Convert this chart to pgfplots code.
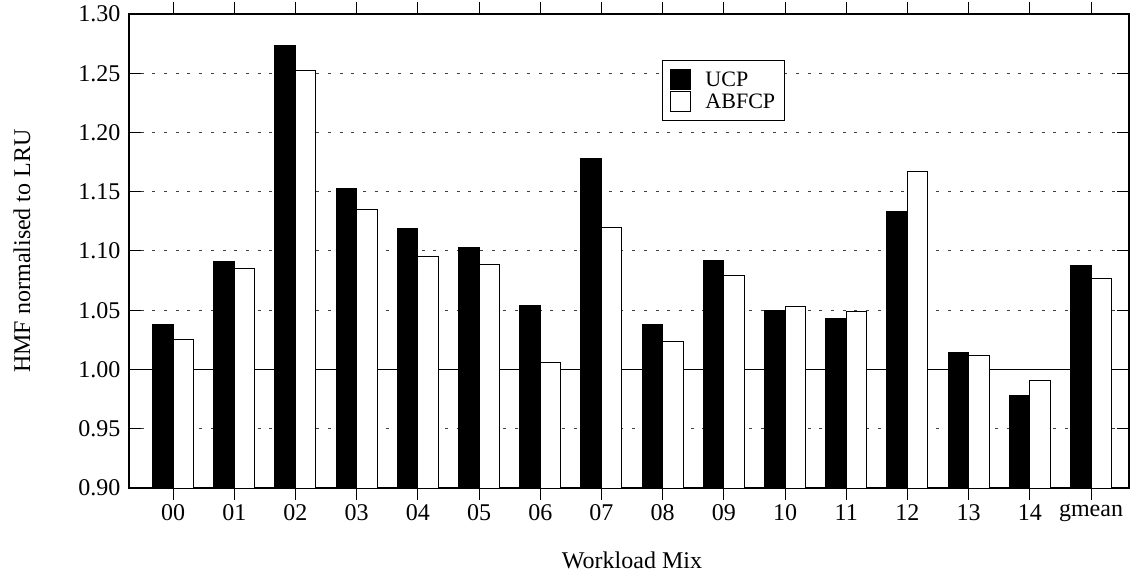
\documentclass[border=0pt]{standalone}
\usepackage{fontspec}
\setmainfont{Liberation Serif}
\usepackage{pgfplots}
\pgfplotsset{compat=1.18}
\newcommand{\fs}{\fontsize{24}{28}\selectfont}
\begin{document}
\begin{tikzpicture}
\useasboundingbox (-129pt,-85pt) rectangle (1001pt,488pt);
\begin{axis}[
  at={(0pt,0pt)}, anchor=south west,
  scale only axis, width=1000pt, height=474pt,
  xmin=-0.72, xmax=15.62, ymin=0.9, ymax=1.3,
  ytick={0.90,0.95,1.00,1.05,1.10,1.15,1.20,1.25,1.30},
  xtick={0,...,15},
  xticklabels={00,01,02,03,04,05,06,07,08,09,10,11,12,13,14,gmean},
  /pgf/number format/fixed, /pgf/number format/fixed zerofill,
  /pgf/number format/precision=2, /pgf/number format/assume math mode=true,
  tick label style={font=\fs},
  yticklabel style={xshift=-5pt},
  xticklabel style={yshift=-1pt},
  major tick length=12pt,
  tick style={black, line width=1pt},
  axis line style={line width=1.2pt},
  ymajorgrids,
  major grid style={black!75, line width=1pt, dash pattern=on 3pt off 8.7pt},
  extra y ticks={1.0},
  extra y tick labels={},
  extra y tick style={grid=major, major grid style={solid, black, line width=1pt}},
  ybar=0pt, bar width=20.5pt,
  xlabel={Workload Mix},
  ylabel={HMF normalised to LRU},
  every axis x label/.style={at={(axis description cs:0.503,-0.152)}, anchor=center, font=\fs},
  every axis y label/.style={at={(axis description cs:-0.107,0.5)}, rotate=90, anchor=center, font=\fs},
  legend style={at={(0.533,0.903)}, anchor=north west, draw=black, line width=1pt,
    font=\fontsize{22}{25}\selectfont, inner xsep=7pt, inner ysep=8.5pt, row sep=1pt,
    /tikz/every odd column/.append style={column sep=13pt},
    /tikz/every even column/.append style={column sep=3pt}},
  legend cell align=left,
]
\addplot[fill=black, draw=black, line width=1pt,
  legend image code/.code={\draw[fill=black,draw=black,line width=1pt] (0pt,-10pt) rectangle (20pt,10pt);}]
  coordinates {(0,1.038) (1,1.091) (2,1.273) (3,1.153) (4,1.119) (5,1.103) (6,1.054) (7,1.178)
  (8,1.038) (9,1.092) (10,1.050) (11,1.043) (12,1.133) (13,1.014) (14,0.978) (15,1.088)};
\addlegendentry{UCP}
\addplot[fill=white, draw=black, line width=1pt,
  legend image code/.code={\draw[fill=white,draw=black,line width=1pt] (0pt,-10pt) rectangle (20pt,10pt);}]
  coordinates {(0,1.025) (1,1.085) (2,1.252) (3,1.135) (4,1.095) (5,1.089) (6,1.006) (7,1.120)
  (8,1.024) (9,1.079) (10,1.053) (11,1.049) (12,1.167) (13,1.012) (14,0.991) (15,1.077)};
\addlegendentry{ABFCP}
\end{axis}
\end{tikzpicture}
\end{document}
